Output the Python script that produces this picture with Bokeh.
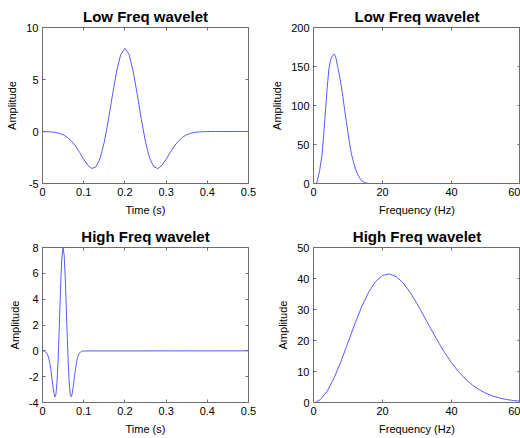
from bokeh.plotting import figure
from bokeh.models import Range1d, FixedTicker, LinearAxis
from bokeh.layouts import gridplot
from bokeh.embed import file_html
from bokeh.resources import INLINE

# ---------------- data ----------------
low_t = [0.00, 0.01, 0.02, 0.03, 0.04, 0.05, 0.06, 0.07, 0.08, 0.09,
         0.10, 0.11, 0.12, 0.13, 0.14, 0.15, 0.16, 0.17, 0.18, 0.19,
         0.20, 0.21, 0.22, 0.23, 0.24, 0.25, 0.26, 0.27, 0.28, 0.29,
         0.30, 0.31, 0.32, 0.33, 0.34, 0.35, 0.36, 0.37, 0.38, 0.39,
         0.40, 0.41, 0.42, 0.43, 0.44, 0.45, 0.46, 0.47, 0.48, 0.49, 0.50]
low_amp = [-0.01, -0.02, -0.04, -0.08, -0.17, -0.31, -0.55, -0.91, -1.40, -2.01,
           -2.67, -3.25, -3.56, -3.39, -2.56, -1.01, 1.13, 3.56, 5.82, 7.42,
           8.00, 7.42, 5.82, 3.56, 1.13, -1.01, -2.56, -3.39, -3.56, -3.25,
           -2.67, -2.01, -1.40, -0.91, -0.55, -0.31, -0.17, -0.08, -0.04, -0.02,
           -0.01, 0.0, 0.0, 0.0, 0.0, 0.0, 0.0, 0.0, 0.0, 0.0, 0.0]

high_t = [0.0, 0.0025, 0.005, 0.0075, 0.01, 0.0125, 0.015, 0.0175, 0.02, 0.0225,
          0.025, 0.0275, 0.03, 0.0325, 0.035, 0.0375, 0.04, 0.0425, 0.045, 0.0475,
          0.05, 0.0525, 0.055, 0.0575, 0.06, 0.0625, 0.065, 0.0675, 0.07, 0.0725,
          0.075, 0.0775, 0.08, 0.0825, 0.085, 0.0875, 0.09, 0.0925, 0.095, 0.0975,
          0.1, 0.5]
high_amp = [-0.01, -0.02, -0.04, -0.08, -0.17, -0.31, -0.55, -0.91, -1.40, -2.01,
            -2.67, -3.25, -3.56, -3.39, -2.56, -1.01, 1.13, 3.56, 5.82, 7.42,
            8.00, 7.42, 5.82, 3.56, 1.13, -1.01, -2.56, -3.39, -3.56, -3.25,
            -2.67, -2.01, -1.40, -0.91, -0.55, -0.31, -0.17, -0.08, -0.04, -0.02,
            -0.01, 0.0]

low_f = [0.9, 1.8, 2.5, 3.0, 3.5, 4.0, 4.5, 5.0, 5.5, 6.0,
         6.5, 7.0, 7.5, 8.0, 8.5, 9.0, 9.5, 10.0, 10.5, 11.0,
         11.5, 12.0, 12.5, 13.0, 13.5, 14.0, 14.5, 15.0, 16.0, 60.0]
low_spec = [0, 17, 38, 65, 95, 125, 148, 159, 164, 166,
            161, 150, 139, 126, 112, 95, 80, 65, 50, 38,
            29, 21, 15, 10, 6.5, 3.5, 2, 1, 0, 0]

high_f = [0.5, 2, 4, 6, 8, 10, 12, 14, 16, 18, 20, 22, 24, 26, 28, 30,
          32, 34, 36, 38, 40, 42, 44, 46, 48, 50, 52, 54, 56, 58, 60]
high_spec = [0, 0.95, 3.71, 7.99, 13.38, 19.37, 25.41, 30.96, 35.60, 39.00,
             40.98, 41.48, 40.61, 38.54, 35.53, 31.89, 27.86, 23.79, 19.81, 16.11,
             12.84, 9.98, 7.60, 5.67, 4.14, 2.96, 2.08, 1.43, 0.96, 0.64, 0.41]

titles = ["Low Freq wavelet", "Low Freq wavelet", "High Freq wavelet", "High Freq wavelet"]
x_labels = ["Time (s)", "Frequency (Hz)", "Time (s)", "Frequency (Hz)"]
y_label = "Amplitude"

time_ticks = [0, 0.1, 0.2, 0.3, 0.4, 0.5]
time_tick_labels = ["0", "0.1", "0.2", "0.3", "0.4", "0.5"]
freq_ticks = [0, 20, 40, 60]
freq_tick_labels = ["0", "20", "40", "60"]
low_amp_ticks = [-5, 0, 5, 10]
low_amp_tick_labels = ["-5", "0", "5", "10"]
low_spec_ticks = [0, 50, 100, 150, 200]
low_spec_tick_labels = ["0", "50", "100", "150", "200"]
high_amp_ticks = [-4, -2, 0, 2, 4, 6, 8]
high_amp_tick_labels = ["-4", "-2", "0", "2", "4", "6", "8"]
high_spec_ticks = [0, 10, 20, 30, 40, 50]
high_spec_tick_labels = ["0", "10", "20", "30", "40", "50"]

# ---------------- styling ----------------
FONT = "Liberation Sans"
FRAME = "#6e6e6e"
LINE = "#5a5aff"
SMALL = "11px"


def style_axis(ax, ticks, labels, show):
    ax.ticker = FixedTicker(ticks=ticks)
    ax.major_tick_in = 3
    ax.major_tick_out = 0
    ax.major_tick_line_color = FRAME
    ax.minor_tick_line_color = None
    ax.axis_line_color = None
    ax.major_label_text_font = FONT
    if show:
        ax.major_label_overrides = {t: s for t, s in zip(ticks, labels)}
        ax.major_label_text_color = "black"
        ax.major_label_text_font_size = SMALL
        ax.major_label_standoff = 4
        ax.axis_label_text_font = FONT
        ax.axis_label_text_font_style = "normal"
        ax.axis_label_text_font_size = SMALL
        ax.axis_label_text_color = "black"
        ax.axis_label_standoff = 5
    else:
        # tick marks only (MATLAB box style): labels are not painted
        ax.major_label_text_color = None
        ax.major_label_text_font_size = "1px"
        ax.major_label_standoff = 0
        ax.axis_label_standoff = 0


def make(title, xlab, xr, yr, xt, xtl, yt, ytl, borders, xs, ys):
    l, r, t, b = borders
    p = figure(width=260, height=219, output_backend="svg", toolbar_location=None,
               x_range=Range1d(*xr), y_range=Range1d(*yr),
               x_axis_type=None, y_axis_type=None,
               min_border_left=l, min_border_right=r,
               min_border_top=t, min_border_bottom=b)
    p.grid.visible = False
    p.background_fill_color = "white"
    p.border_fill_color = "white"
    p.outline_line_color = FRAME
    p.outline_line_width = 1

    bx = LinearAxis(axis_label=xlab)
    style_axis(bx, xt, xtl, True)
    p.add_layout(bx, "below")
    ly = LinearAxis(axis_label=y_label)
    style_axis(ly, yt, ytl, True)
    p.add_layout(ly, "left")
    tx = LinearAxis()
    style_axis(tx, xt, xtl, False)
    p.add_layout(tx, "above")
    ry = LinearAxis()
    style_axis(ry, yt, ytl, False)
    p.add_layout(ry, "right")

    p.title.text = title
    p.title.align = "center"
    p.title.text_font = FONT
    p.title.text_font_size = "15px"
    p.title.text_font_style = "bold"
    p.title.text_color = "black"
    p.title.standoff = 6

    p.line(xs, ys, line_color=LINE, line_width=1)
    return p


p1 = make(titles[0], x_labels[0], (0, 0.5), (-5, 10), time_ticks, time_tick_labels,
          low_amp_ticks, low_amp_tick_labels, (42, 12, 27, 36), low_t, low_amp)
p2 = make(titles[1], x_labels[1], (0, 60), (0, 200), freq_ticks, freq_tick_labels,
          low_spec_ticks, low_spec_tick_labels, (53, 0, 27, 36), low_f, low_spec)
p3 = make(titles[2], x_labels[2], (0, 0.5), (-4, 8), time_ticks, time_tick_labels,
          high_amp_ticks, high_amp_tick_labels, (42, 12, 28, 36), high_t, high_amp)
p4 = make(titles[3], x_labels[3], (0, 60), (0, 50), freq_ticks, freq_tick_labels,
          high_spec_ticks, high_spec_tick_labels, (53, 0, 28, 36), high_f, high_spec)

grid = gridplot([[p1, p2], [p3, p4]], toolbar_location=None)

open("out.html", "w").write(file_html(grid, INLINE))
